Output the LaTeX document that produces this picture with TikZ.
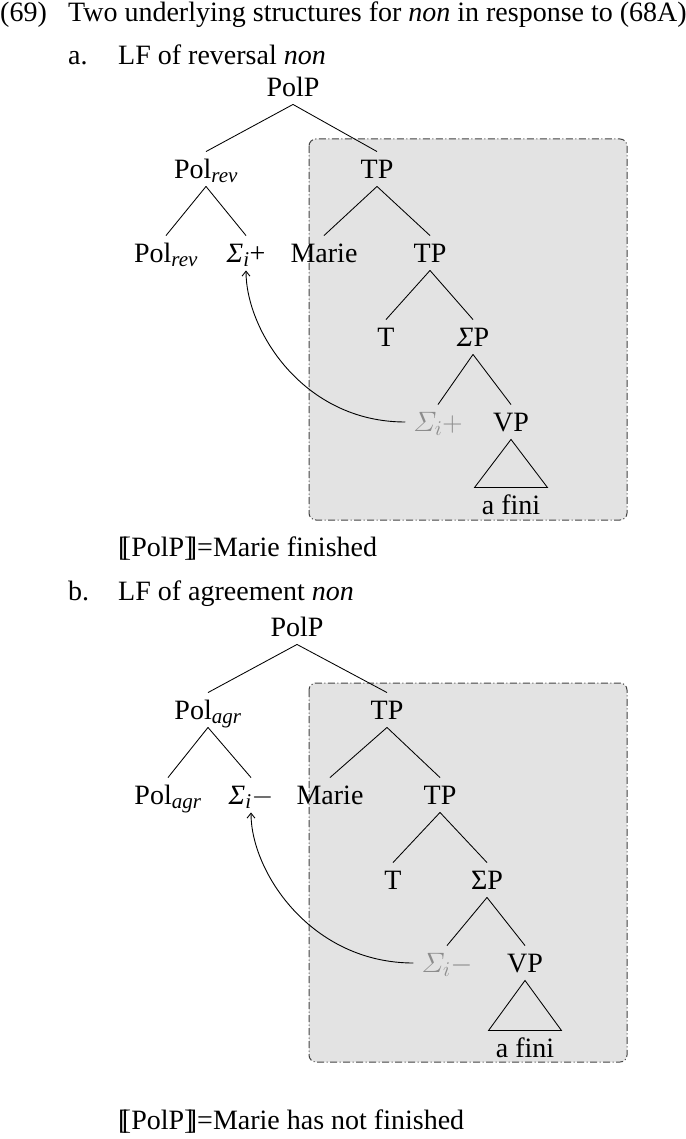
\RequirePackage{fix-cm}
\documentclass[tikz,border=0pt]{standalone}
\usepackage{amsmath}
\usepackage{fontspec}
\setmainfont{Liberation Serif}
\usetikzlibrary{arrows.meta}
\DeclareMathSizes{28}{28}{21}{16}
\newcommand\lsem{[\kern-0.2em[}
\newcommand\rsem{]\kern-0.2em]}
\newcommand\SigI{\textit{Σ}$_{\textit{i}}$}
\definecolor{boxfill}{HTML}{E3E3E3}
\definecolor{boxline}{HTML}{444444}
\definecolor{trace}{HTML}{8C8C8C}
\begin{document}
\begin{tikzpicture}[x=1pt,y=-1pt,
  every node/.style={font=\fontsize{28pt}{34pt}\selectfont},
  txt/.style={anchor=base west, inner sep=0pt},
  lbl/.style={inner xsep=0pt, inner ysep=8pt, text height=18.5pt, text depth=0pt, anchor=center},
  tedge/.style={line width=0.85pt},
  movearrow/.style={line width=0.9pt, -{Straight Barb[length=5pt,width=8pt]}, shorten <=8pt},
  tpbox/.style={draw=boxline, fill=boxfill, line width=1pt, rounded corners=7pt,
     dash pattern=on 7pt off 2.5pt on 1pt off 2.5pt}]
\useasboundingbox (0,0) rectangle (685,1139);

% header
\node[txt] (num) at (0,22) {(69)};
\node[txt] (title) at (68,22) {Two underlying structures for \textit{non} in response to (68A)};

% ---------- a ----------
\node[txt] (alab) at (68,65) {a.};
\node[txt] (atitle) at (118,65) {LF of reversal \textit{non}};
\draw[tpbox] (309,139) rectangle (627,520);

\node[lbl] (aPolP) at (293,87) {PolP};
\node[lbl] (aPolrev) at (206,169) {Pol$_{\textit{rev}}$};
\node[lbl] (aTP) at (377,169) {TP};
\node[lbl] (aPolrevL) at (166,253) {Pol$_{\textit{rev}}$};
\node[lbl] (aSig) at (246,253) {\SigI+};
\node[lbl] (aMarie) at (324,253) {Marie};
\node[lbl] (aTPb) at (430,253) {TP};
\node[lbl] (aT) at (386,337) {T};
\node[lbl] (aSP) at (473,337) {\textit{Σ}P};
\node[lbl, text=trace] (aSigT) at (438,422) {$\varSigma_i+$};
\node[lbl] (aVP) at (511,422) {VP};
\node[lbl] (aFini) at (511,505) {a fini};

\draw[tedge] (aPolP.south) -- (aPolrev.north);
\draw[tedge] (aPolP.south) -- (aTP.north);
\draw[tedge] (aPolrev.south) -- (aPolrevL.north);
\draw[tedge] (aPolrev.south) -- (aSig.north);
\draw[tedge] (aTP.south) -- (aMarie.north);
\draw[tedge] (aTP.south) -- (aTPb.north);
\draw[tedge] (aTPb.south) -- (aT.north);
\draw[tedge] (aTPb.south) -- (aSP.north);
\draw[tedge] (aSP.south) -- (aSigT.north);
\draw[tedge] (aSP.south) -- (aVP.north);
\draw[tedge] (aVP.south) -- ([xshift=-36.5pt]aFini.north) -- ([xshift=36.5pt]aFini.north) -- cycle;
\draw[movearrow] (aSigT.west) .. controls +(-110,0) and +(0,60) .. (aSig.south);

\node[txt] (ameaning) at (118,556) {\lsem PolP\rsem=Marie finished};

% ---------- b ----------
\node[txt] (blab) at (68,600) {b.};
\node[txt] (btitle) at (118,600) {LF of agreement \textit{non}};
\draw[tpbox] (309,683) rectangle (627,1062);

\node[lbl] (bPolP) at (297,627) {PolP};
\node[lbl] (bPolagr) at (208,710) {Pol$_{\textit{agr}}$};
\node[lbl] (bTP) at (387,710) {TP};
\node[lbl] (bPolagrL) at (168,795) {Pol$_{\textit{agr}}$};
\node[lbl] (bSig) at (251,795) {\SigI$-$};
\node[lbl] (bMarie) at (330,795) {Marie};
\node[lbl] (bTPb) at (440,795) {TP};
\node[lbl] (bT) at (393,880) {T};
\node[lbl] (bSP) at (487,880) {ΣP};
\node[lbl, text=trace] (bSigT) at (447,963) {$\varSigma_i-$};
\node[lbl] (bVP) at (525,963) {VP};
\node[lbl] (bFini) at (525,1048) {a fini};

\draw[tedge] (bPolP.south) -- (bPolagr.north);
\draw[tedge] (bPolP.south) -- (bTP.north);
\draw[tedge] (bPolagr.south) -- (bPolagrL.north);
\draw[tedge] (bPolagr.south) -- (bSig.north);
\draw[tedge] (bTP.south) -- (bMarie.north);
\draw[tedge] (bTP.south) -- (bTPb.north);
\draw[tedge] (bTPb.south) -- (bT.north);
\draw[tedge] (bTPb.south) -- (bSP.north);
\draw[tedge] (bSP.south) -- (bSigT.north);
\draw[tedge] (bSP.south) -- (bVP.north);
\draw[tedge] (bVP.south) -- ([xshift=-36.5pt]bFini.north) -- ([xshift=36.5pt]bFini.north) -- cycle;
\draw[movearrow] (bSigT.west) .. controls +(-110,0) and +(0,60) .. (bSig.south);

\node[txt] (bmeaning) at (118,1129) {\lsem PolP\rsem=Marie has not finished};
\end{tikzpicture}
\end{document}
